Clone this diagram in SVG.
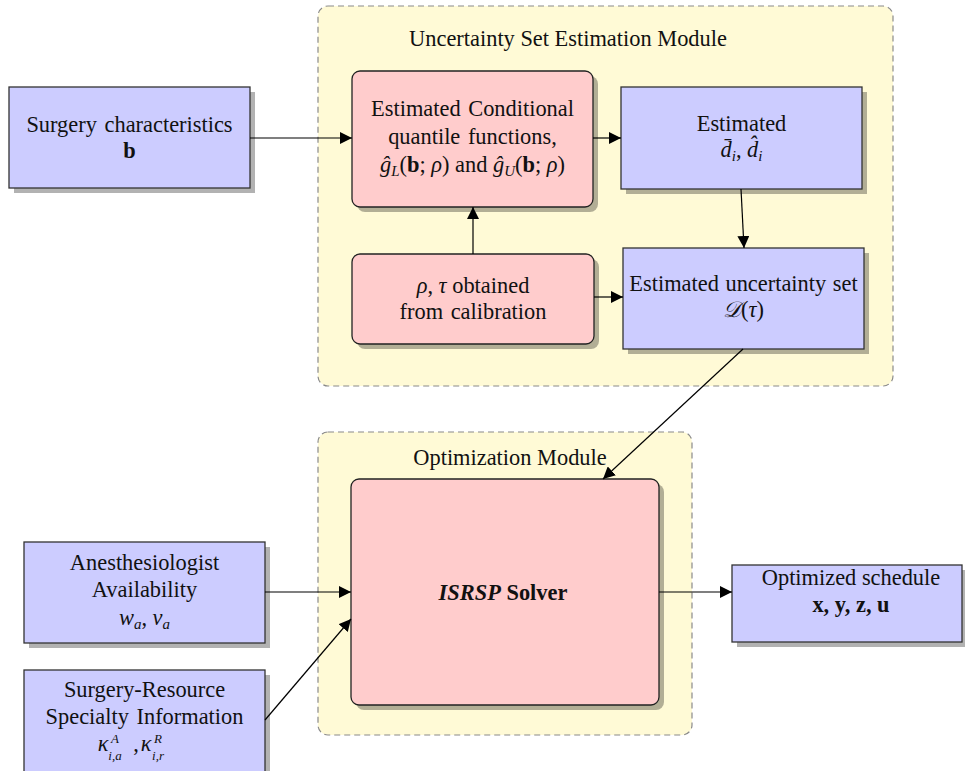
<svg xmlns="http://www.w3.org/2000/svg" width="965" height="771" viewBox="0 0 965 771" font-family="'Liberation Serif', Tinos, 'Times New Roman', 'DejaVu Serif', serif">
<style>
text{font-family:'Liberation Serif',Tinos,'Times New Roman','DejaVu Serif',serif;font-size:22.4px;fill:#111;text-anchor:middle}
.it{font-style:italic}
.bf{font-weight:bold}
.sub{font-size:15px;font-style:italic}
.ss{font-size:13px;font-style:italic}
.module{fill:#fffad6;stroke:#8a8a8a;stroke-width:1.2;stroke-dasharray:6 4}
.blue{fill:#ccccff;stroke:#333;stroke-width:1.3}
.pink{fill:#ffcccc;stroke:#222;stroke-width:1.3}
.shadow{fill:#000;opacity:0.3}
.conn line{stroke:#000;stroke-width:1.2;marker-end:url(#arr)}
</style>
<defs>
<marker id="arr" markerUnits="userSpaceOnUse" markerWidth="12" markerHeight="12" viewBox="0 0 12 12" refX="12" refY="6" orient="auto">
<path d="M0,0 L12,6 L0,12 z" fill="#000"/>
</marker>
</defs>
<rect width="965" height="771" fill="#fff"/>

<g id="module-uncertainty">
<rect class="module" x="318" y="6" width="575" height="380" rx="10"/>
<text x="568" y="46">Uncertainty Set Estimation Module</text>
</g>
<g id="module-optimization">
<rect class="module" x="318" y="432" width="374" height="303" rx="10"/>
<text x="510" y="465">Optimization Module</text>
</g>

<g id="surgery-characteristics">
<rect class="shadow" x="14" y="92" width="241" height="101"/>
<rect class="blue" x="9" y="87" width="241" height="101"/>
<text x="129.5" y="132" word-spacing="2">Surgery characteristics</text>
<text x="129.5" y="158" class="bf">b</text>
</g>

<g id="quantile-functions">
<rect class="shadow" x="357" y="76" width="241" height="136" rx="8"/>
<rect class="pink" x="352" y="71" width="241" height="136" rx="8"/>
<text x="472.5" y="116" word-spacing="2">Estimated Conditional</text>
<text x="472.5" y="144" word-spacing="2">quantile functions,</text>
<text x="472.5" y="172"><tspan class="it">ĝ</tspan><tspan class="sub" dy="4">L</tspan><tspan dy="-4">(</tspan><tspan class="bf">b</tspan>; <tspan class="it">ρ</tspan>) and <tspan class="it">ĝ</tspan><tspan class="sub" dy="4">U</tspan><tspan dy="-4">(</tspan><tspan class="bf">b</tspan>; <tspan class="it">ρ</tspan>)</text>
</g>

<g id="estimated-d">
<rect class="shadow" x="626" y="92" width="241" height="102"/>
<rect class="blue" x="621" y="87" width="241" height="102"/>
<text x="741.5" y="131">Estimated</text>
<text x="741.5" y="157"><tspan class="it">d̄</tspan><tspan class="sub" dy="4">i</tspan><tspan dy="-4">, </tspan><tspan class="it">d̂</tspan><tspan class="sub" dy="4">i</tspan></text>
</g>

<g id="calibration">
<rect class="shadow" x="357" y="259" width="242" height="90" rx="8"/>
<rect class="pink" x="352" y="254" width="242" height="90" rx="8"/>
<text x="473" y="293"><tspan class="it">ρ</tspan>, <tspan class="it">τ</tspan> obtained</text>
<text x="473" y="319" word-spacing="2">from calibration</text>
</g>

<g id="uncertainty-set">
<rect class="shadow" x="628" y="253" width="241" height="101"/>
<rect class="blue" x="623" y="248" width="241" height="101"/>
<text x="743.5" y="291" word-spacing="1">Estimated uncertainty set</text>
<text x="743.5" y="317"><tspan class="it">𝒟</tspan>(<tspan class="it">τ</tspan>)</text>
</g>

<g id="isrsp-solver">
<rect class="shadow" x="356" y="484" width="308" height="226" rx="8"/>
<rect class="pink" x="351" y="479" width="308" height="226" rx="8"/>
<text x="503" y="600" class="bf"><tspan class="it">ISRSP</tspan> Solver</text>
</g>

<g id="anesthesiologist">
<rect class="shadow" x="29" y="547" width="241" height="101"/>
<rect class="blue" x="24" y="542" width="241" height="101"/>
<text x="144.5" y="570">Anesthesiologist</text>
<text x="144.5" y="597">Availability</text>
<text x="144.5" y="625"><tspan class="it">w</tspan><tspan class="sub" dy="4">a</tspan><tspan dy="-4">, </tspan><tspan class="it">v</tspan><tspan class="sub" dy="4">a</tspan></text>
</g>

<g id="surgery-resource">
<rect class="shadow" x="29" y="675" width="241" height="110"/>
<rect class="blue" x="24" y="670" width="241" height="110"/>
<text x="144.5" y="697">Surgery-Resource</text>
<text x="144.5" y="724" word-spacing="2">Specialty Information</text>
<text x="103" y="751" class="it" text-anchor="start">κ</text>
<text x="115" y="743" class="ss" text-anchor="start">A</text>
<text x="115" y="760" class="ss" text-anchor="start">i,a</text>
<text x="136" y="751" text-anchor="start">,</text>
<text x="146" y="751" class="it" text-anchor="start">κ</text>
<text x="158" y="743" class="ss" text-anchor="start">R</text>
<text x="158" y="760" class="ss" text-anchor="start">i,r</text>
</g>

<g id="optimized-schedule">
<rect class="shadow" x="737" y="570" width="230" height="77"/>
<rect class="blue" x="732" y="565" width="230" height="77"/>
<text x="851" y="585">Optimized schedule</text>
<text x="851" y="612" class="bf">x, y, z, u</text>
</g>

<g class="conn" id="connectors">
<line x1="250" y1="138" x2="352" y2="138"/>
<line x1="593" y1="138" x2="621" y2="138"/>
<line x1="473" y1="254" x2="473" y2="207"/>
<line x1="741" y1="189" x2="744" y2="248"/>
<line x1="594" y1="297" x2="623" y2="297"/>
<line x1="743" y1="349" x2="603" y2="479"/>
<line x1="265" y1="592" x2="351" y2="592"/>
<line x1="265" y1="720" x2="351" y2="619"/>
<line x1="659" y1="592" x2="732" y2="592"/>
</g>
</svg>
